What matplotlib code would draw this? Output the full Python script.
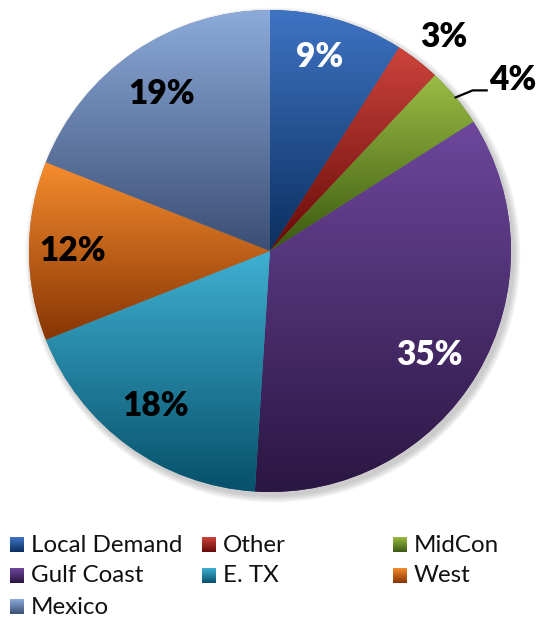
import numpy as np
import matplotlib
matplotlib.use("Agg")
import matplotlib.pyplot as plt
from matplotlib.colors import to_rgb
from matplotlib.patches import Circle

# ---- data ----
categories = ["Local Demand", "Other", "MidCon", "Gulf Coast", "E. TX", "West", "Mexico"]
shares = [9, 3, 4, 35, 18, 12, 19]
pct_labels = [f"{v}%" for v in shares]

# gradient fill (top -> bottom) for each slice
top_colors = ["#3f74c4", "#cc443c", "#9abd45", "#6e479c", "#40b0d2", "#f68c2e", "#8caada"]
bottom_colors = ["#0a2f5e", "#660a08", "#3a580f", "#2a1642", "#06506a", "#863504", "#3b4e74"]
label_colors = ["white", "black", "black", "white", "black", "black", "black"]

# label placement: (distance as fraction of radius, angular shift in degrees)
label_place = [(0.83, 1.7), (1.145, -1.3), (1.23, -4.4), (0.79, -2.4),
               (0.80, -0.4), (0.82, 0.0), (0.79, 0.5)]

plt.rcParams["font.family"] = ["Lato", "DejaVu Sans"]

W, H = 537, 620
fig = plt.figure(figsize=(W / 100, H / 100), dpi=100)
fig.patch.set_facecolor("white")


def vgrad(c_top, c_bot, n=256):
    t = np.linspace(0, 1, n)[:, None]
    a = np.array(to_rgb(c_top))
    b = np.array(to_rgb(c_bot))
    return (a * (1 - t) + b * t)[:, None, :]


# ---- legend (drawn in figure pixel coordinates) ----
leg = fig.add_axes([0, 0, 1, 1])
leg.set_xlim(0, W)
leg.set_ylim(H, 0)
leg.axis("off")
col_x = [10, 202, 393]
row_y = [545, 576, 607]
for i, (name, ct, cb) in enumerate(zip(categories, top_colors, bottom_colors)):
    row, col = divmod(i, 3)
    x0, yc = col_x[col], row_y[row]
    leg.imshow(vgrad(ct, cb), extent=(x0, x0 + 14, yc + 7.5, yc - 7.5),
               origin="upper", aspect="auto", interpolation="bilinear")
    leg.text(x0 + 21, yc, name, fontsize=17.4, va="center", ha="left", color="#111111")
leg.set_xlim(0, W)
leg.set_ylim(H, 0)

# ---- pie ----
cx, cy, r = 270, 251, 241
ax = fig.add_axes([(cx - r) / W, (H - cy - r) / H, 2 * r / W, 2 * r / H])
mid_colors = [tuple((np.array(to_rgb(a)) + np.array(to_rgb(b))) / 2)
              for a, b in zip(top_colors, bottom_colors)]
wedges, _ = ax.pie(shares, startangle=90, counterclock=False, colors=mid_colors,
                   radius=1, wedgeprops=dict(linewidth=0))
ax.set_autoscale_on(False)
px = 1.0 / r  # one pixel in data units

# soft drop shadow under the pie
for k in range(12):
    ax.add_patch(Circle((3 * px, -4 * px), 1 + k * 0.6 * px, color="#7a7a7a",
                        alpha=0.035, lw=0, zorder=0, clip_on=False))

for w, ct, cb in zip(wedges, top_colors, bottom_colors):
    w.set_zorder(1)
    ext = w.get_path().get_extents()
    im = ax.imshow(vgrad(ct, cb), extent=(ext.x0, ext.x1, ext.y0, ext.y1),
                   origin="upper", aspect="auto", interpolation="bilinear", zorder=2)
    im.set_clip_path(w)

# percentage labels
for w, txt, col, (d, shift) in zip(wedges, pct_labels, label_colors, label_place):
    mid = np.deg2rad((w.theta1 + w.theta2) / 2 + shift)
    ax.text(d * np.cos(mid), d * np.sin(mid), txt, fontsize=24, fontweight="heavy",
            color=col, ha="center", va="center", zorder=5, clip_on=False)

# leader line for the small MidCon slice
wm = wedges[2]
m = np.deg2rad((wm.theta1 + wm.theta2) / 2)
p0 = np.array([np.cos(m), np.sin(m)])
p1 = p0 + np.array([17, 7]) * px
p2 = p1 + np.array([14, 0]) * px
ax.plot([p0[0], p1[0], p2[0]], [p0[1], p1[1], p2[1]], color="black", lw=1.6,
        zorder=5, clip_on=False)

ax.set_xlim(-1, 1)
ax.set_ylim(-1, 1)
ax.axis("off")

fig.savefig("out.png", dpi=100, facecolor="white")
